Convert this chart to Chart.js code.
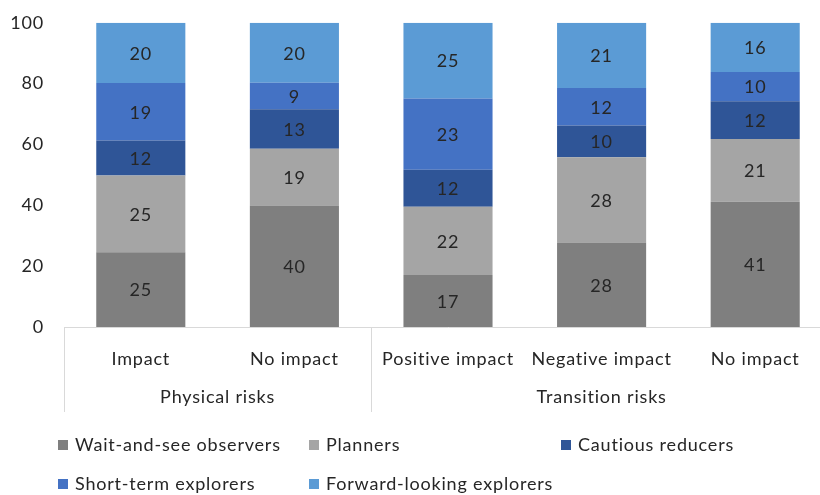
<!DOCTYPE html>
<html>
<head>
<meta charset="utf-8">
<script src="https://cdn.jsdelivr.net/npm/chart.js@4"></script>
<style>
  html, body { margin: 0; padding: 0; background: #fff; overflow: hidden; }
  #wrap { width: 840px; height: 495px; }
</style>
</head>
<body>
<div id="wrap"><canvas id="c" width="840" height="495"></canvas></div>
<script>
// ---- data ----
const categories = ["Impact", "No impact", "Positive impact", "Negative impact", "No impact"];
const groups = ["Physical risks", "Transition risks"];
const groupSizes = [2, 3];
const seriesNames = ["Wait-and-see observers", "Planners", "Cautious reducers", "Short-term explorers", "Forward-looking explorers"];
const waitAndSee   = [24.6, 39.9, 17.1, 27.8, 41.2];
const planners     = [25.2, 18.7, 22.4, 28.0, 20.6];
const cautious     = [11.5, 13.0, 12.2, 10.4, 12.4];
const shortTerm    = [18.9,  8.7, 23.4, 12.4,  9.6];
const forward      = [19.8, 19.7, 24.9, 21.4, 16.2];
const yTicks = [0, 20, 40, 60, 80, 100];

const colors = ["#7f7f7f", "#a5a5a5", "#2f5597", "#4472c4", "#5b9bd5"];
const seriesValues = [waitAndSee, planners, cautious, shortTerm, forward];
const FONT = "Lato, 'Open Sans', sans-serif";
const TEXT = "#262626";
const SPACING = "0.8px";

const extras = {
  id: "extras",
  beforeInit(chart) { chart.ctx.letterSpacing = SPACING; },
  beforeDraw(chart) { chart.ctx.letterSpacing = SPACING; },
  afterDatasetsDraw(chart) {
    const ctx = chart.ctx;
    ctx.save();
    ctx.font = "18px " + FONT;
    ctx.fillStyle = TEXT;
    ctx.textAlign = "center";
    ctx.textBaseline = "middle";
    chart.data.datasets.forEach((ds, i) => {
      const meta = chart.getDatasetMeta(i);
      meta.data.forEach((el, j) => {
        const p = el.getProps(["x", "y", "base"], true);
        ctx.fillText(String(Math.round(ds.data[j])), p.x, (p.y + p.base) / 2 + 1);
      });
    });
    ctx.restore();
  },
  afterDraw(chart) {
    const ctx = chart.ctx;
    const ca = chart.chartArea;
    const xs = chart.scales.x;
    ctx.save();
    ctx.strokeStyle = "#d9d9d9";
    ctx.lineWidth = 1;
    const bottom = ca.bottom + 85;
    const sepXs = [ca.left];
    let idx = 0;
    const centers = [];
    groupSizes.forEach((n) => {
      const first = xs.getPixelForValue(idx);
      const last = xs.getPixelForValue(idx + n - 1);
      centers.push((first + last) / 2);
      idx += n;
      if (idx < categories.length) {
        sepXs.push((xs.getPixelForValue(idx - 1) + xs.getPixelForValue(idx)) / 2);
      } else {
        sepXs.push(ca.right);
      }
    });
    sepXs.forEach(x => {
      const xx = Math.round(x) + 0.5;
      ctx.beginPath();
      ctx.moveTo(xx, ca.bottom);
      ctx.lineTo(xx, bottom);
      ctx.stroke();
    });
    ctx.font = "18px " + FONT;
    ctx.fillStyle = TEXT;
    ctx.textAlign = "center";
    ctx.textBaseline = "middle";
    groups.forEach((g, i) => ctx.fillText(g, centers[i], ca.bottom + 70));
    const colX = [58, 309, 561];
    const rowY = [445, 484];
    ctx.textAlign = "left";
    chart.data.datasets.forEach((ds, i) => {
      const r = Math.floor(i / 3), c = i % 3;
      const x = colX[c], y = rowY[r];
      ctx.fillStyle = ds.backgroundColor;
      ctx.fillRect(x, y - 5, 10, 10);
      ctx.fillStyle = TEXT;
      ctx.fillText(ds.label, x + 17, y);
    });
    ctx.restore();
  }
};

new Chart(document.getElementById("c"), {
  type: "bar",
  data: {
    labels: categories,
    datasets: seriesNames.map((name, i) => ({
      label: name,
      data: seriesValues[i],
      backgroundColor: colors[i],
      borderWidth: 0,
      categoryPercentage: 1.0,
      barPercentage: 0.58
    }))
  },
  options: {
    responsive: false,
    animation: false,
    devicePixelRatio: 1,
    layout: { padding: { top: 12, right: 8, bottom: 0, left: 0 } },
    plugins: { legend: { display: false }, tooltip: { enabled: false } },
    scales: {
      x: {
        stacked: true,
        grid: { display: false },
        border: { display: true, color: "#d9d9d9", width: 1 },
        ticks: { font: { family: FONT, size: 18 }, color: TEXT, padding: 13, maxRotation: 0, autoSkip: false },
        afterFit(scale) { scale.height = 168; }
      },
      y: {
        stacked: true,
        min: 0, max: 100,
        afterBuildTicks(scale) { scale.ticks = yTicks.map(v => ({ value: v })); },
        grid: { display: false },
        border: { display: false },
        ticks: { font: { family: FONT, size: 18 }, color: TEXT, padding: 12 },
        afterFit(scale) { scale.width = 64; }
      }
    }
  },
  plugins: [extras]
});
</script>
</body>
</html>
